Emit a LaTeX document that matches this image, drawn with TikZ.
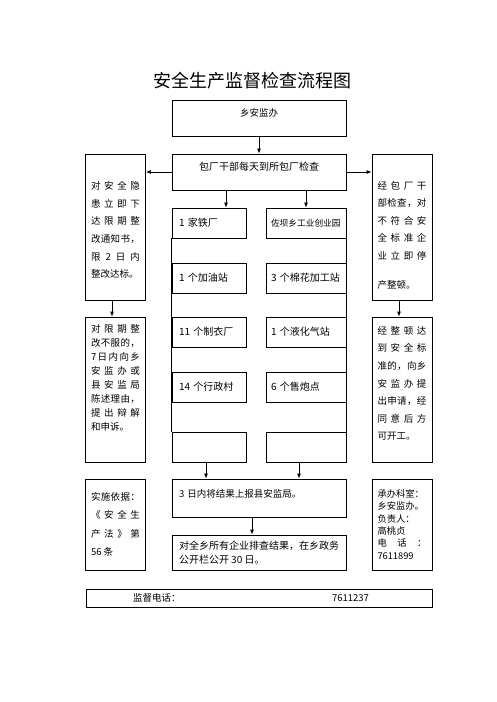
\documentclass[tikz,border=0pt]{standalone}
\usepackage{fontspec}
\setmainfont{Noto Sans CJK SC}
\usetikzlibrary{arrows.meta,calc}

% one line spread over the box width
\newcommand\jrow[1]{\hbox to\hsize{\jrowfirst#1\jrowend}}
\def\jrowfirst#1{#1\jrowrest}
\def\jrowrest#1{\ifx\jrowend#1\else\hfil#1\expandafter\jrowrest\fi}
\def\jrowend{}
% one line set to the left
\newcommand\lrow[1]{\hbox to\hsize{#1\hfil}}
% a stack of lines, #1 wide
\newcommand\rows[2]{\vbox{\hsize=#1\relax#2}}

\begin{document}
\begin{tikzpicture}[x=1pt, y=-1pt,
    frame/.style={draw, rectangle, line width=\linethic, inner ysep=0pt},
    wide/.style={frame, minimum width=174pt, text width=160pt, inner xsep=7pt, font=\fontsize{10}{14}\selectfont},
    side/.style={frame, minimum width=60pt, inner xsep=5.5pt},
    itemL/.style={frame, minimum width=74pt, minimum height=30pt, text width=60pt, inner xsep=7pt, font=\fontsize{10}{12}\selectfont},
    itemR/.style={frame, minimum width=80pt, minimum height=30pt, text width=70pt, inner xsep=5pt, font=\fontsize{10}{12}\selectfont},
    arr/.style={-{Latex[length=5pt,width=4pt]}, line width=\linethic}]

    %--------------------%
    % Parameters
    %--------------------%
    \def\linethic{0.8pt}
    \def\xC{259}
    \def\xL{209}
    \def\xR{306}
    \def\xSL{115.5}
    \def\xSR{402}
    \def\rowA{223}
    \def\rowB{278}
    \def\rowC{332}
    \def\rowD{387}
    \def\rowE{447}

    \useasboundingbox (0,0) rectangle (496,702);

    %--------------------%
    % Title and office
    %--------------------%
    \node[font=\fontsize{18}{20}\selectfont] (title) at (252,81) {安全生产监督检查流程图};
    \node[wide, minimum height=36pt, align=center, font=\fontsize{9.5}{12}\selectfont] (office) at (\xC,118) {\raisebox{5pt}[\height][\depth]{乡安监办}};
    \node[wide, minimum height=36pt, align=center] (daily) at (\xC,172) {\raisebox{5pt}[\height][\depth]{包厂干部每天到所包厂检查}};

    %--------------------%
    % Side boxes
    %--------------------%
    \node[side, minimum height=146pt, font=\fontsize{9.5}{17.6}\selectfont] (notice) at (\xSL,227) {\rows{49pt}{\kern6pt\jrow{对安全隐}\jrow{患立即下}\jrow{达限期整}\jrow{改通知书，}\jrow{限2日内}\lrow{整改达标。}}};
    \node[side, minimum height=146pt, font=\fontsize{9.5}{17.6}\selectfont] (stop) at (\xSR,227) {\rows{49pt}{\kern16pt\jrow{经包厂干}\jrow{部检查，对}\jrow{不符合安}\jrow{全标准企}\jrow{业立即停}\kern11pt\lrow{产整顿。}}};
    \node[side, minimum height=145pt, font=\fontsize{9.5}{14}\selectfont] (appeal) at (\xSL,389.5) {\rows{49pt}{\jrow{对限期整}\jrow{改不服的，}\jrow{7日内向乡}\jrow{安监办或}\jrow{县安监局}\jrow{陈述理由，}\jrow{提出辩解}\lrow{和申诉。}\kern24pt}};
    \node[side, minimum height=145pt, font=\fontsize{9.5}{17.55}\selectfont] (reopen) at (\xSR,389.5) {\rows{49pt}{\jrow{经整顿达}\jrow{到安全标}\jrow{准的，向乡}\jrow{安监办提}\jrow{出申请，经}\jrow{同意后方}\lrow{可开工。}\kern12pt}};

    %--------------------%
    % Units checked
    %--------------------%
    \node[itemL] (iron) at (\xL,\rowA) {1 家铁厂};
    \node[itemR, font=\fontsize{8.7}{12}\selectfont] (park) at (\xR,\rowA) {佐坝乡工业创业园};
    \node[itemL] (fuel) at (\xL,\rowB) {1 个加油站};
    \node[itemR] (cotton) at (\xR,\rowB) {3 个棉花加工站};
    \node[itemL] (garment) at (\xL,\rowC) {11 个制衣厂};
    \node[itemR] (gas) at (\xR,\rowC) {1 个液化气站};
    \node[itemL] (village) at (\xL,\rowD) {14 个行政村};
    \node[itemR] (firework) at (\xR,\rowD) {6 个售炮点};
    \node[itemL] (blankL) at (\xL,\rowE) {};
    \node[itemR] (blankR) at (\xR,\rowE) {};

    %--------------------%
    % Results
    %--------------------%
    \node[wide, minimum height=38pt, font=\fontsize{9.5}{14}\selectfont] (report) at (\xC,498) {\raisebox{4pt}[\height][\depth]{3 日内将结果上报县安监局。}};
    \node[frame, minimum width=174pt, minimum height=35pt, inner xsep=7pt, font=\fontsize{10}{14}\selectfont] (publish) at (\xC,552.5) {\rows{160pt}{\lrow{对全乡所有企业排查结果，在乡政务}\lrow{公开栏公开 30 日。}}};
    \node[side, minimum height=91pt, font=\fontsize{9.5}{18.4}\selectfont] (basis) at (\xSL,524.5) {\rows{49pt}{\jrow{实施依据：}\jrow{《安全生}\jrow{产法》第}\lrow{56 条}}};
    \node[side, minimum height=91pt, font=\fontsize{9.3}{12.3}\selectfont] (contact) at (\xSR,524.5) {\rows{49pt}{\lrow{承办科室：}\lrow{乡安监办。}\lrow{负责人：}\lrow{高桃贞}\jrow{电话：}\lrow{7611899}}};
    \node[frame, minimum width=346pt, minimum height=18pt, inner xsep=0pt, font=\fontsize{9.5}{12}\selectfont] (phone) at (\xC,598) {\hbox to 346pt{\hspace{47pt}监督电话：\hfill 7611237\hspace{63pt}}};

    %--------------------%
    % Connections
    %--------------------%
    \draw[line width=\linethic] (iron.south west) -- (blankL.north west);
    \draw[line width=\linethic] (park.south east) -- (blankR.north east);

    \draw[arr] (office.south) -- (daily.north);
    \draw[arr] (daily.west) -- (daily.west -| notice.east);
    \draw[arr] (daily.east) -- (daily.east -| stop.west);
    \draw[arr] ($(iron.north |- daily.south)+(17,0)$) -- ($(iron.north)+(17,0)$);
    \draw[arr] (park.north |- daily.south) -- (park.north);
    \draw[arr] ([xshift=-3.5pt]notice.south) -- ([xshift=-3.5pt]appeal.north);
    \draw[arr] ([xshift=-3pt]stop.south) -- ([xshift=-3pt]reopen.north);
    \draw[arr] ($(blankL.south)+(-3,0)$) -- ($(blankL.south |- report.north)+(-3,0)$);
    \draw[arr] ($(blankR.south)+(-7,0)$) -- ($(blankR.south |- report.north)+(-7,0)$);
    \draw[arr] ([xshift=-7pt]report.south) -- ([xshift=-7pt]publish.north);
\end{tikzpicture}
\end{document}
